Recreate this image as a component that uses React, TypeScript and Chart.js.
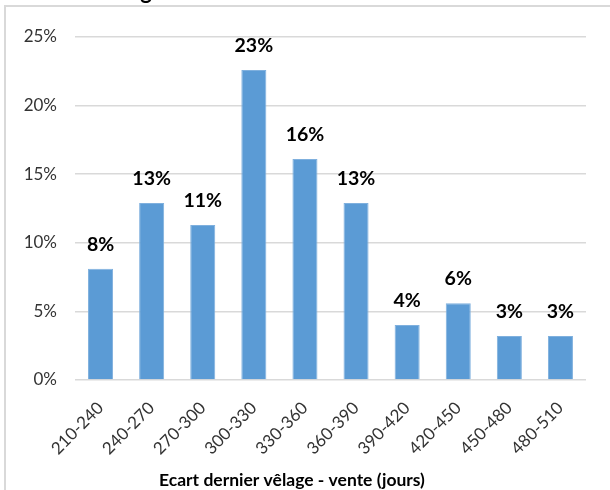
import React, { useEffect, useRef } from "react";
import { Chart, registerables } from "chart.js";

Chart.register(...registerables);

const categories = ["210-240", "240-270", "270-300", "300-330", "330-360", "360-390", "390-420", "420-450", "450-480", "480-510"];
const values = [8.1, 12.9, 11.3, 22.6, 16.1, 12.9, 4.0, 5.6, 3.2, 3.2];
const yTicks = [0, 5, 10, 15, 20, 25];
const xAxisTitle = "Ecart dernier vêlage - vente (jours)";
const clippedTitle = "g";

const FONT = "Lato, 'Open Sans', sans-serif";

export default function App() {
  const ref = useRef<HTMLCanvasElement>(null);
  useEffect(() => {
    if (!ref.current) return;
    const framePlugin = {
      id: "frame",
      beforeDraw(chart: any) {
        const ctx = chart.ctx;
        ctx.save();
        ctx.fillStyle = "#ffffff";
        ctx.fillRect(0, 0, chart.width, chart.height);
        ctx.fillStyle = "#d9d9d9";
        ctx.fillRect(4, 5, 2, chart.height - 5);
        ctx.fillRect(4, 5, chart.width - 4, 2);
        ctx.fillStyle = "#000";
        ctx.font = `bold 22px ${FONT}`;
        ctx.textAlign = "center";
        ctx.textBaseline = "alphabetic";
        ctx.fillText(clippedTitle, 146, -1);
        ctx.restore();
      },
      afterDraw(chart: any) {
        const ctx = chart.ctx;
        ctx.save();
        ctx.fillStyle = "#000";
        ctx.font = `bold 17.5px ${FONT}`;
        ctx.textAlign = "center";
        ctx.textBaseline = "alphabetic";
        ctx.fillText(xAxisTitle, 292, 486);
        ctx.restore();
      },
    };
    const labelPlugin = {
      id: "barLabels",
      afterDatasetsDraw(chart: any) {
        const ctx = chart.ctx;
        const meta = chart.getDatasetMeta(0);
        ctx.save();
        ctx.fillStyle = "#000";
        ctx.font = `bold 19.5px ${FONT}`;
        ctx.textAlign = "center";
        ctx.textBaseline = "alphabetic";
        meta.data.forEach((bar: any, i: number) => {
          ctx.fillText(Math.round(values[i]) + "%", bar.x, bar.y - 18);
        });
        ctx.restore();
      },
    };
    const chart = new Chart(ref.current, {
      type: "bar",
      data: {
        labels: categories,
        datasets: [
          {
            data: values,
            backgroundColor: "#5b9bd5",
            borderColor: "#7fb0de",
            borderWidth: 1,
            barPercentage: 0.49,
            categoryPercentage: 1,
          },
        ],
      },
      options: {
        responsive: false,
        animation: false,
        layout: { padding: { left: 0, right: 24, top: 37, bottom: 0 } },
        plugins: { legend: { display: false }, tooltip: { enabled: false }, title: { display: false } },
        scales: {
          y: {
            min: 0,
            max: 25,
            afterBuildTicks(scale: any) {
              scale.ticks = yTicks.map((v) => ({ value: v }));
            },
            afterFit(scale: any) {
              scale.width = 75;
            },
            ticks: {
              padding: 18,
              color: "#333333",
              font: { family: FONT, size: 17 },
              callback: (v: any) => v + "%",
            },
            grid: { color: "#d9d9d9", lineWidth: 1.5, drawTicks: false },
            border: { display: false },
          },
          x: {
            afterFit(scale: any) {
              scale.height = 110;
            },
            ticks: {
              minRotation: 45,
              maxRotation: 45,
              padding: 18,
              color: "#333333",
              font: { family: FONT, size: 17 },
            },
            grid: { display: false, drawTicks: false },
            border: { display: false },
          },
        },
      },
      plugins: [framePlugin, labelPlugin],
    });
    return () => chart.destroy();
  }, []);
  return (
    <div style={{ position: "absolute", left: 0, top: 0, width: 610, height: 490 }}>
      <canvas ref={ref} width={610} height={490} style={{ display: "block" }} />
    </div>
  );
}
